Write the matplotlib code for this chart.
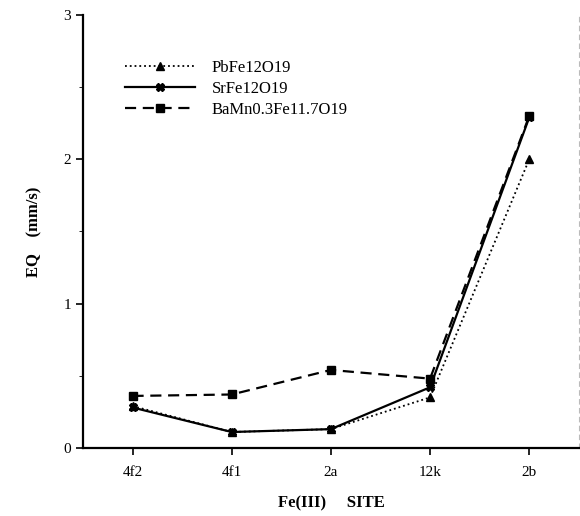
import numpy as np
import matplotlib
matplotlib.use("Agg")
import matplotlib.pyplot as plt

plt.rcParams['font.family'] = ['Liberation Serif', 'DejaVu Serif']

sites = ['4f2', '4f1', '2a', '12k', '2b']
pb = [0.29, 0.11, 0.13, 0.35, 2.00]
sr = [0.28, 0.11, 0.13, 0.42, 2.29]
ba = [0.36, 0.37, 0.54, 0.48, 2.30]

fig = plt.figure(figsize=(5.8, 5.16), dpi=100)
ax = fig.add_axes([0.143, 0.132, 0.855, 0.839])

x = np.arange(len(sites))
ax.plot(x, pb, color='black', linestyle=':', linewidth=1.3, marker='^',
        markersize=6, label='PbFe12O19')
ax.plot(x, sr, color='black', linestyle='-', linewidth=1.6, marker='X',
        markersize=6, label='SrFe12O19')
ax.plot(x, ba, color='black', linestyle=(0, (5, 3)), linewidth=1.6, marker='s',
        markersize=6, label='BaMn0.3Fe11.7O19')

ax.set_xlim(-0.5, 4.5)
ax.set_ylim(0, 3)
ax.set_xticks(x)
ax.set_xticklabels(sites, fontsize=11)
ax.set_yticks([0, 1, 2, 3])
ax.set_yticks([0.5, 1.5, 2.5], minor=True)
ax.tick_params(axis='y', labelsize=11, direction='out', length=5, width=1.2)
ax.tick_params(axis='y', which='minor', direction='out', length=3)
ax.tick_params(axis='x', direction='out', length=5, width=1.2, pad=8)

ax.spines['top'].set_visible(False)
ax.spines['right'].set_color('#bbbbbb')
ax.spines['right'].set_linestyle((0, (4, 4)))
ax.spines['left'].set_linewidth(1.6)
ax.spines['bottom'].set_linewidth(1.6)

ax.set_xlabel('Fe(III)     SITE', fontsize=12, fontweight='bold', labelpad=12)
ax.set_ylabel('EQ    (mm/s)', fontsize=12, fontweight='bold', labelpad=15)

ax.legend(loc='upper left', bbox_to_anchor=(0.055, 0.93), frameon=False,
          fontsize=12, handlelength=4.2, handletextpad=1.0, labelspacing=0.3)

plt.savefig('out.png', dpi=100)
